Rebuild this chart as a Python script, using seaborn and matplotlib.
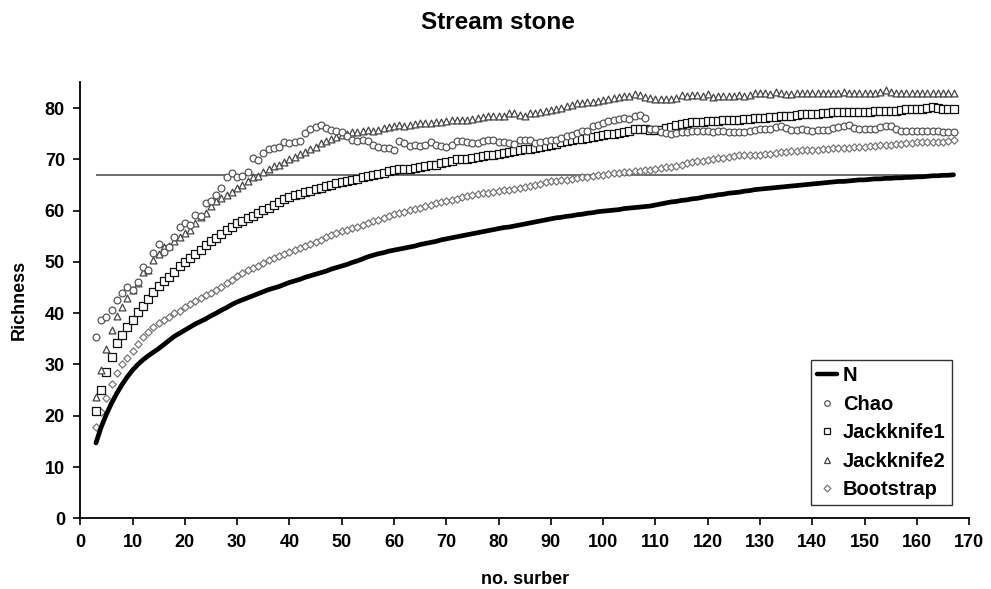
import numpy as np
import pandas as pd
import seaborn as sns
import matplotlib
matplotlib.use("Agg")
import matplotlib.pyplot as plt
from matplotlib.lines import Line2D

# ---------------- data ----------------
samples = list(range(3, 168))

N = [14.7, 17.8, 20.3, 22.5, 24.4, 26.1, 27.6, 28.9, 30.0, 30.9, 31.7, 32.4, 33.1, 33.9, 34.7,
     35.5, 36.1, 36.7, 37.3, 37.9, 38.4, 38.9, 39.5, 40.0, 40.6, 41.1, 41.7, 42.2, 42.6, 43.0,
     43.4, 43.8, 44.2, 44.6, 44.9, 45.2, 45.6, 46.0, 46.3, 46.6, 47.0, 47.3, 47.6, 47.9, 48.2,
     48.6, 48.9, 49.2, 49.5, 49.9, 50.2, 50.6, 51.0, 51.3, 51.6, 51.8, 52.1, 52.3, 52.5, 52.7,
     52.9, 53.1, 53.4, 53.6, 53.8, 54.0, 54.3, 54.5, 54.7, 54.9, 55.1, 55.3, 55.5, 55.7, 55.9,
     56.1, 56.3, 56.5, 56.7, 56.8, 57.0, 57.2, 57.4, 57.6, 57.8, 58.0, 58.2, 58.4, 58.6, 58.7,
     58.9, 59.0, 59.2, 59.3, 59.5, 59.6, 59.8, 59.9, 60.0, 60.1, 60.2, 60.4, 60.5, 60.6, 60.7,
     60.8, 60.9, 61.1, 61.3, 61.5, 61.7, 61.8, 62.0, 62.1, 62.3, 62.4, 62.6, 62.8, 62.9, 63.1,
     63.2, 63.4, 63.5, 63.6, 63.8, 63.9, 64.1, 64.2, 64.3, 64.4, 64.5, 64.6, 64.7, 64.8, 64.9,
     65.0, 65.1, 65.2, 65.3, 65.4, 65.5, 65.6, 65.7, 65.7, 65.8, 65.9, 66.0, 66.0, 66.1, 66.2,
     66.2, 66.3, 66.3, 66.4, 66.4, 66.5, 66.5, 66.6, 66.6, 66.7, 66.8, 66.8, 66.9, 66.9, 67.0]

chao = [35.3, 38.7, 39.3, 40.6, 42.6, 43.9, 45.2, 44.5, 46.0, 49.1, 48.4, 51.7, 53.5, 52.0, 53.0,
        54.9, 56.9, 57.6, 57.2, 59.2, 59.0, 61.5, 61.8, 63.0, 64.4, 66.5, 67.3, 66.5, 66.8, 67.6,
        70.2, 69.8, 71.2, 72.0, 72.2, 72.5, 73.3, 73.2, 73.3, 73.5, 75.1, 75.9, 76.3, 76.7, 76.1,
        75.8, 75.6, 75.4, 74.5, 73.8, 73.5, 73.8, 73.5, 72.8, 72.5, 72.3, 72.2, 71.9, 73.5, 73.2,
        72.6, 72.8, 72.6, 72.8, 73.3, 72.8, 72.6, 72.5, 72.8, 73.5, 73.5, 73.3, 73.2, 73.2, 73.5,
        73.7, 73.8, 73.3, 73.3, 73.2, 73.0, 73.8, 73.8, 73.7, 73.2, 73.3, 73.5, 73.7, 73.8, 74.2,
        74.5, 74.8, 75.2, 75.5, 75.5, 76.5, 76.7, 77.1, 77.4, 77.6, 77.9, 78.0, 77.9, 78.4, 78.7,
        78.0, 76.0, 75.9, 75.4, 75.1, 75.0, 75.1, 75.3, 75.3, 75.6, 75.5, 75.5, 75.5, 75.4, 75.6,
        75.5, 75.4, 75.3, 75.3, 75.3, 75.5, 75.8, 76.0, 76.0, 76.0, 76.3, 76.5, 76.1, 75.8, 75.8,
        75.9, 75.8, 75.6, 75.8, 75.8, 75.8, 76.1, 76.3, 76.6, 76.7, 76.2, 75.9, 75.9, 75.9, 75.9,
        76.3, 76.6, 76.5, 76.0, 75.6, 75.5, 75.5, 75.5, 75.5, 75.5, 75.5, 75.5, 75.3, 75.3, 75.4]

jack1 = [21.0, 25.0, 28.6, 31.5, 34.1, 35.8, 37.3, 38.7, 40.2, 41.4, 42.7, 44.2, 45.3, 46.2, 47.0,
         48.0, 49.2, 50.0, 50.8, 51.6, 52.4, 53.3, 54.0, 54.7, 55.4, 56.2, 56.9, 57.5, 58.0, 58.5,
         59.0, 59.6, 60.1, 60.6, 61.1, 61.7, 62.2, 62.6, 63.0, 63.3, 63.6, 63.9, 64.2, 64.5, 64.8,
         65.1, 65.4, 65.6, 65.8, 66.0, 66.2, 66.5, 66.7, 66.9, 67.2, 67.3, 67.7, 67.9, 68.1, 68.1,
         68.2, 68.3, 68.5, 68.8, 68.9, 69.0, 69.3, 69.5, 69.7, 70.0, 70.0, 70.1, 70.2, 70.4, 70.6,
         70.8, 70.9, 71.1, 71.3, 71.5, 71.6, 71.9, 72.0, 72.0, 72.2, 72.4, 72.6, 72.8, 73.0, 73.3,
         73.5, 73.8, 73.9, 74.0, 74.2, 74.4, 74.6, 74.7, 74.9, 75.0, 75.1, 75.3, 75.5, 75.9, 76.0,
         75.9, 75.7, 75.7, 75.8, 76.1, 76.4, 76.7, 76.9, 77.1, 77.2, 77.2, 77.3, 77.4, 77.4, 77.5,
         77.7, 77.7, 77.7, 77.7, 77.8, 77.8, 78.0, 78.0, 78.1, 78.2, 78.3, 78.4, 78.4, 78.5, 78.7,
         78.8, 78.9, 78.9, 78.9, 79.0, 79.1, 79.2, 79.3, 79.3, 79.3, 79.3, 79.3, 79.3, 79.3, 79.4,
         79.5, 79.5, 79.5, 79.5, 79.6, 79.8, 79.8, 79.8, 79.9, 80.1, 80.2, 80.0, 79.8, 79.8, 79.8]

jack2 = [23.7, 28.9, 33.0, 36.7, 39.5, 41.3, 42.9, 44.5, 45.9, 48.1, 48.4, 50.4, 51.5, 53.0, 53.1,
         54.0, 54.9, 55.6, 56.3, 57.6, 58.8, 59.5, 61.0, 61.8, 62.4, 63.1, 63.7, 64.4, 65.0, 65.7,
         66.5, 66.8, 67.5, 68.2, 68.7, 69.0, 69.5, 70.0, 70.5, 71.0, 71.4, 72.0, 72.5, 73.2, 73.6,
         74.0, 74.4, 74.7, 75.0, 75.3, 75.4, 75.6, 75.7, 75.6, 75.8, 76.1, 76.4, 76.5, 76.7, 76.6,
         76.7, 76.9, 77.1, 77.0, 77.1, 77.2, 77.2, 77.4, 77.6, 77.7, 77.7, 77.7, 77.8, 78.1, 78.3,
         78.5, 78.5, 78.5, 78.5, 79.1, 79.0, 78.7, 78.5, 79.0, 79.1, 79.3, 79.4, 79.6, 79.8, 80.1,
         80.4, 80.7, 80.9, 81.0, 81.1, 81.2, 81.4, 81.6, 81.8, 82.0, 82.2, 82.3, 82.3, 82.8, 82.6,
         82.2, 81.9, 81.7, 81.8, 81.7, 81.8, 81.9, 82.6, 82.4, 82.5, 82.6, 82.4, 82.8, 82.1, 82.4,
         82.4, 82.4, 82.4, 82.5, 82.4, 82.6, 83.0, 83.0, 82.9, 82.8, 83.2, 82.9, 82.8, 82.8, 83.0,
         83.0, 83.0, 83.0, 83.0, 83.0, 82.9, 82.9, 83.0, 83.2, 82.9, 83.0, 83.0, 83.0, 83.0, 83.0,
         83.2, 83.6, 83.2, 82.9, 82.9, 83.0, 83.0, 83.0, 83.0, 83.0, 83.0, 82.9, 82.9, 82.9, 82.9]

bootstrap = [17.8, 20.8, 23.4, 26.2, 28.3, 30.0, 31.2, 32.7, 34.0, 35.3, 36.3, 37.3, 38.0, 38.6, 39.3,
             40.0, 40.5, 41.2, 41.8, 42.3, 42.9, 43.5, 44.0, 44.6, 45.2, 45.8, 46.4, 47.2, 47.9, 48.4,
             48.8, 49.3, 49.8, 50.3, 50.7, 51.1, 51.5, 51.9, 52.3, 52.7, 53.1, 53.5, 53.9, 54.3, 54.8,
             55.2, 55.6, 56.0, 56.3, 56.6, 56.9, 57.2, 57.5, 57.9, 58.2, 58.6, 59.0, 59.3, 59.5, 59.8,
             60.1, 60.3, 60.6, 60.9, 61.2, 61.4, 61.6, 61.9, 62.1, 62.3, 62.6, 62.8, 63.0, 63.2, 63.4,
             63.5, 63.7, 63.8, 64.0, 64.1, 64.2, 64.4, 64.6, 64.8, 65.0, 65.2, 65.5, 65.7, 65.8, 65.9,
             66.0, 66.2, 66.3, 66.5, 66.6, 66.8, 66.9, 67.0, 67.2, 67.3, 67.4, 67.5, 67.6, 67.7, 67.8,
             67.9, 68.0, 68.2, 68.4, 68.5, 68.6, 68.8, 69.0, 69.2, 69.4, 69.6, 69.7, 69.8, 70.0, 70.2,
             70.3, 70.5, 70.7, 70.9, 70.9, 70.8, 70.8, 70.9, 71.0, 71.1, 71.2, 71.4, 71.5, 71.6, 71.7,
             71.8, 71.8, 71.9, 71.9, 72.0, 72.1, 72.2, 72.2, 72.3, 72.3, 72.4, 72.4, 72.5, 72.6, 72.7,
             72.8, 72.9, 72.9, 73.0, 73.0, 73.1, 73.2, 73.3, 73.3, 73.3, 73.3, 73.3, 73.4, 73.5, 73.7]

observed_total = 67.0  # horizontal reference line

x_ticks = list(range(0, 171, 10))
y_ticks = list(range(0, 81, 10))

# ---------------- style ----------------
sns.set_style("ticks")
plt.rcParams["font.family"] = ["Liberation Sans", "DejaVu Sans"]
plt.rcParams["font.weight"] = "bold"
for k in ["text.color", "axes.labelcolor", "xtick.color", "ytick.color", "axes.edgecolor"]:
    plt.rcParams[k] = "black"

fig = plt.figure(figsize=(9.91, 5.89), dpi=100)
ax = fig.add_axes([0.081, 0.120, 0.897, 0.740])

df = pd.DataFrame({"x": samples, "N": N, "Chao": chao, "Jackknife1": jack1,
                   "Jackknife2": jack2, "Bootstrap": bootstrap})

ax.hlines(observed_total, samples[0], samples[-1], colors="#444444", linewidth=1.1, zorder=1)

sns.lineplot(data=df, x="x", y="N", ax=ax, color="black", linewidth=3.4, zorder=3)
sns.scatterplot(data=df, x="x", y="Bootstrap", ax=ax, marker="D", s=14,
                facecolor="white", edgecolor="#777777", linewidth=0.9, zorder=2)
sns.scatterplot(data=df, x="x", y="Jackknife1", ax=ax, marker="s", s=26,
                facecolor="white", edgecolor="#111111", linewidth=0.9, zorder=2)
sns.scatterplot(data=df, x="x", y="Jackknife2", ax=ax, marker="^", s=24,
                facecolor="white", edgecolor="#444444", linewidth=0.9, zorder=2)
sns.scatterplot(data=df, x="x", y="Chao", ax=ax, marker="o", s=24,
                facecolor="white", edgecolor="#555555", linewidth=0.9, zorder=2)

ax.set_xlim(0, 170)
ax.set_ylim(0, 85)
ax.set_xticks(x_ticks)
ax.set_yticks(y_ticks)
ax.tick_params(axis="both", direction="out", length=5, width=1.2, labelsize=13,
               colors="black", pad=6)
for lab in ax.get_xticklabels() + ax.get_yticklabels():
    lab.set_fontweight("bold")
sns.despine(ax=ax)
for sp in ["left", "bottom"]:
    ax.spines[sp].set_linewidth(1.3)
    ax.spines[sp].set_color("black")

ax.set_xlabel("no. surber", fontsize=13, fontweight="bold", labelpad=15, color="black")
ax.set_ylabel("Richness", fontsize=13, fontweight="bold", labelpad=12, color="black")
fig.suptitle("Stream stone", x=0.502, y=0.982, fontsize=17.5, fontweight="bold", color="black")

handles = [
    Line2D([], [], color="black", linewidth=3.2, label="N"),
    Line2D([], [], linestyle="none", marker="o", markersize=4, markerfacecolor="white",
           markeredgecolor="#555555", markeredgewidth=0.9, label="Chao"),
    Line2D([], [], linestyle="none", marker="s", markersize=4.5, markerfacecolor="white",
           markeredgecolor="#111111", markeredgewidth=0.9, label="Jackknife1"),
    Line2D([], [], linestyle="none", marker="^", markersize=4.5, markerfacecolor="white",
           markeredgecolor="#444444", markeredgewidth=0.9, label="Jackknife2"),
    Line2D([], [], linestyle="none", marker="D", markersize=3.5, markerfacecolor="white",
           markeredgecolor="#777777", markeredgewidth=0.9, label="Bootstrap"),
]
leg = ax.legend(handles=handles, loc="lower right", bbox_to_anchor=(0.9805, 0.03),
                frameon=True, fancybox=False, framealpha=1, edgecolor="#333333",
                prop={"size": 14.5, "weight": "bold"}, handlelength=1.0,
                handletextpad=0.3, labelspacing=0.47, borderpad=0.3,
                borderaxespad=0.0)
leg.get_frame().set_linewidth(1.0)
for t in leg.get_texts():
    t.set_color("black")

fig.savefig("out.png", dpi=100)
